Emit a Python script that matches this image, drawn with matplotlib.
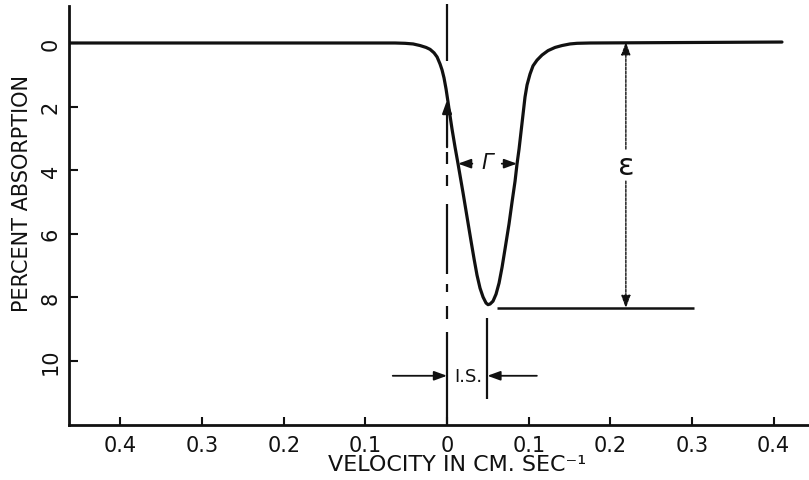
import matplotlib
matplotlib.use("Agg")
import matplotlib.pyplot as plt

# Absorption line of a single Mossbauer resonance (velocity in cm/s, percent absorption)
velocity = [-0.463, -0.0637, -0.0514, -0.0416, -0.0331, -0.0257, -0.0208, -0.0159,
            -0.0122, -0.0086, -0.0061, -0.0037, -0.0012, 0.0012, 0.0037, 0.0061,
            0.0098, 0.0135, 0.0196, 0.0245, 0.0294, 0.0331, 0.0367, 0.0404,
            0.0441, 0.0478, 0.0502, 0.0527, 0.0563, 0.0600, 0.0637, 0.0674,
            0.0710, 0.0759, 0.0796, 0.0833, 0.0857, 0.0882, 0.0906, 0.0931,
            0.0955, 0.0980, 0.1016, 0.1053, 0.1102, 0.1163, 0.1237, 0.1323,
            0.1408, 0.1506, 0.1592, 0.1751, 0.4102]
absorption = [0.0, 0.0, 0.01, 0.03, 0.08, 0.14, 0.20, 0.31,
              0.44, 0.66, 0.85, 1.10, 1.45, 1.86, 2.30, 2.71,
              3.28, 3.81, 4.72, 5.48, 6.24, 6.80, 7.31, 7.72,
              8.00, 8.19, 8.24, 8.22, 8.13, 7.91, 7.56, 7.06,
              6.49, 5.70, 5.01, 4.35, 3.81, 3.34, 2.80, 2.24,
              1.70, 1.32, 0.98, 0.72, 0.54, 0.38, 0.24, 0.14,
              0.08, 0.03, 0.01, 0.0, -0.03]

x_ticks = [-0.4, -0.3, -0.2, -0.1, 0.0, 0.1, 0.2, 0.3, 0.4]
x_tick_labels = ["0.4", "0.3", "0.2", "0.1", "0", "0.1", "0.2", "0.3", "0.4"]
y_ticks = [0, 2, 4, 6, 8, 10]
y_tick_labels = ["0", "2", "4", "6", "8", "10"]

# Zero-velocity reference line, drawn in pieces (solid / dashed stretches)
zero_line_start = [-1.23, 3.43, 4.16, 5.07, 7.59, 8.28, 9.10]
zero_line_end = [0.57, 3.81, 4.50, 7.28, 7.84, 8.69, 12.03]
zero_arrow_tail, zero_arrow_tip = 3.28, 1.80

# Annotated line parameters
baseline = -0.03
peak_depth = 8.35
peak_velocity = 0.0494
gamma_level = 3.80
gamma_left, gamma_right = 0.0135, 0.0857
epsilon_velocity = 0.219
depth_line_start, depth_line_end = 0.061, 0.303
is_level = 10.48
is_line_top, is_line_bottom = 8.66, 11.21

ink = "#111111"
plt.rcParams["font.family"] = ["DejaVu Sans"]

fig = plt.figure(figsize=(8.09, 4.81), dpi=100)
ax = fig.add_axes([69 / 809, 55 / 481, 740 / 809, 419 / 481])

ax.plot(velocity, absorption, color=ink, lw=2.3, solid_capstyle="round",
        solid_joinstyle="round", zorder=3)

ax.set_xlim(-0.463, 0.4433)
ax.set_ylim(12.03, -1.165)

for side in ("top", "right"):
    ax.spines[side].set_visible(False)
for side in ("left", "bottom"):
    ax.spines[side].set_linewidth(2.0)
    ax.spines[side].set_color(ink)

ax.set_xticks(x_ticks)
ax.set_xticklabels(x_tick_labels, fontsize=15, color=ink)
ax.set_yticks(y_ticks)
ax.set_yticklabels(y_tick_labels, fontsize=15, color=ink, rotation=90, va="center")
ax.tick_params(axis="x", direction="in", length=6, width=1.5, pad=7, colors=ink)
ax.tick_params(axis="y", direction="in", length=6.5, width=1.5, pad=6, colors=ink)

ax.set_xlabel("VELOCITY IN CM. SEC⁻¹", fontsize=16, color=ink, va="center")
ax.xaxis.set_label_coords((457 - 69) / 740, (426 - 465) / 419)
ax.set_ylabel("PERCENT ABSORPTION", fontsize=15, color=ink, va="center")
ax.yaxis.set_label_coords((22 - 69) / 740, (426 - 194) / 419)

head = "-|>,head_length=0.55,head_width=0.2"


def arrow(x0, y0, x1, y1, lw=1.3, ls="-"):
    ax.annotate("", xy=(x1, y1), xytext=(x0, y0),
                arrowprops=dict(arrowstyle=head, lw=lw, color=ink, linestyle=ls,
                                mutation_scale=14, shrinkA=0, shrinkB=0),
                annotation_clip=False)


# Zero-velocity line
ax.vlines([0.0] * len(zero_line_start), zero_line_start, zero_line_end,
          colors=ink, lw=1.6, clip_on=False)
arrow(0.0, zero_arrow_tail, 0.0, zero_arrow_tip, lw=1.6)

# Line width Gamma
arrow(0.031, gamma_level, gamma_left, gamma_level)
arrow(0.067, gamma_level, gamma_right, gamma_level)
ax.text(peak_velocity, gamma_level - 0.05, "Γ", fontsize=15, style="italic",
        ha="center", va="center", color=ink)

# Effect magnitude epsilon
arrow(epsilon_velocity, 3.34, epsilon_velocity, baseline, lw=1.0, ls=(0, (2, 1)))
arrow(epsilon_velocity, 4.35, epsilon_velocity, peak_depth, lw=1.0, ls=(0, (2, 1)))
ax.text(epsilon_velocity, 3.85, "ε", fontsize=22, ha="center", va="center", color=ink)
ax.hlines(peak_depth, depth_line_start, depth_line_end, colors=ink, lw=1.8)

# Isomer shift
ax.vlines(peak_velocity, is_line_top, is_line_bottom, colors=ink, lw=1.6)
arrow(-0.0665, is_level, 0.0, is_level)
arrow(0.110, is_level, peak_velocity, is_level)
ax.text(0.0257, is_level, "I.S.", fontsize=13, ha="center", va="center", color=ink)

fig.savefig("out.png", dpi=100, facecolor="white")
